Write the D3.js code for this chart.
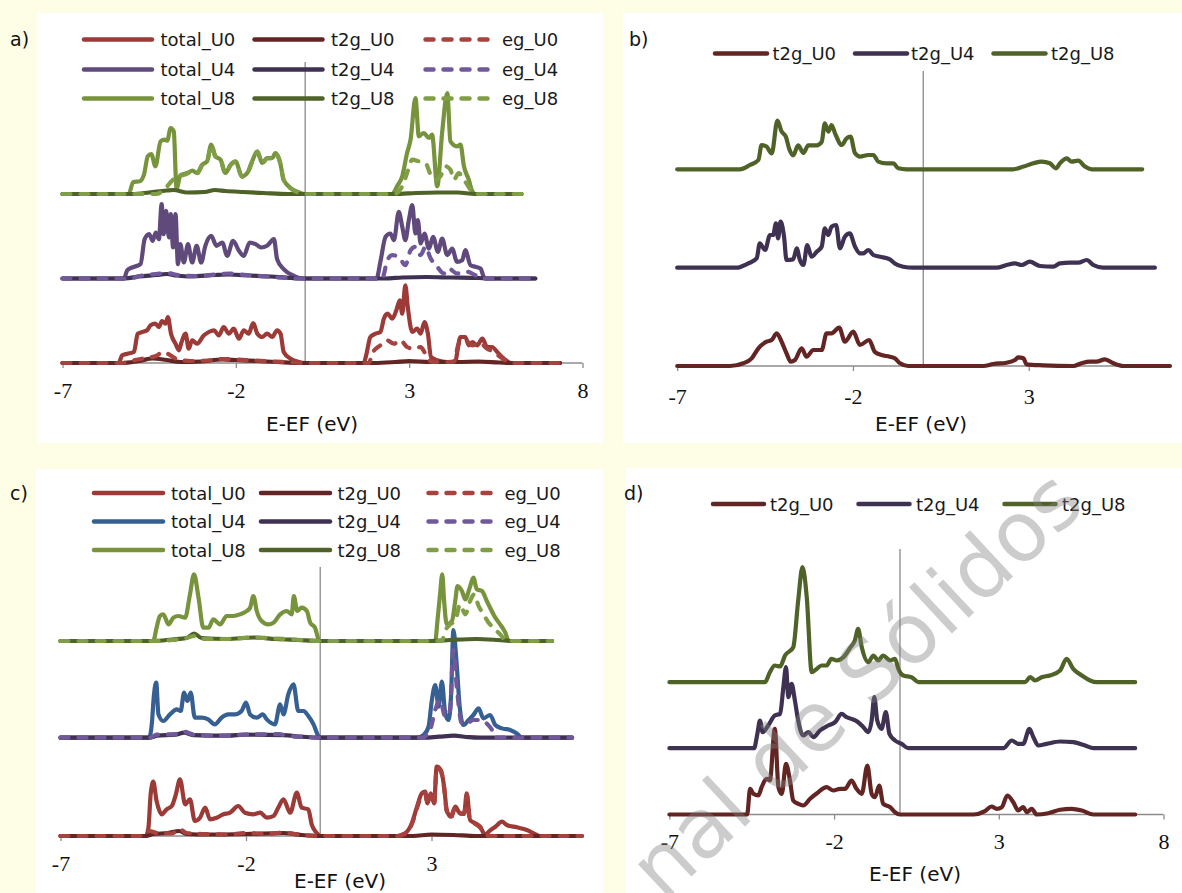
<!DOCTYPE html>
<html>
<head>
<meta charset="utf-8">
<script src="https://cdn.jsdelivr.net/npm/d3@7"></script>
<style>
  body { margin: 0; background: #fefee6; }
  svg { display: block; }
</style>
</head>
<body>
<svg id="chart" width="1182" height="893"></svg>
<script>
// ---- data: [E - EF (eV), DOS (arb. units)] ----
const ticksFull = [-7, -2, 3, 8];
const ticksShort = [-7, -2, 3];
const seriesNames = ['total_U0', 't2g_U0', 'eg_U0', 'total_U4', 't2g_U4', 'eg_U4', 'total_U8', 't2g_U8', 'eg_U8'];
const t2gNames = ['t2g_U0', 't2g_U4', 't2g_U8'];

// vertical offsets of the U0 / U4 / U8 curves in each panel
const offsetsA = [0, 8.45, 16.9];
const offsetsB = [0, 9.83, 19.67];
const offsetsC = [0, 9.83, 19.5];
const offsetsD = [0, 6.63, 13.23];

// panel a)
const aTotalU0 = [[-7,0],[-5.38,0],[-5.28,0.77],[-5.13,0.93],[-4.94,1.1],[-4.83,2.93],[-4.7,3.1],[-4.56,3.27],[-4.46,3.77],[-4.32,3.93],[-4.22,3.6],[-4.13,4.2],[-4.03,3.93],[-3.96,4.6],[-3.87,2.93],[-3.74,1.93],[-3.64,1.27],[-3.58,1.93],[-3.45,2.93],[-3.36,1.43],[-3.26,2.27],[-3.12,1.93],[-2.92,2.77],[-2.78,3.1],[-2.63,3.27],[-2.49,2.77],[-2.35,3.6],[-2.2,2.93],[-2.06,3.43],[-1.91,2.43],[-1.77,3.27],[-1.63,2.93],[-1.5,4.0],[-1.38,2.93],[-1.24,2.6],[-1.1,2.93],[-0.95,2.6],[-0.81,3.27],[-0.71,2.93],[-0.62,1.1],[-0.42,0.43],[-0.18,0.1],[0,0],[1.69,0],[1.77,0.93],[1.88,2.6],[2.03,2.93],[2.17,3.1],[2.27,4.43],[2.38,4.93],[2.51,4.43],[2.63,5.27],[2.73,6.27],[2.8,4.93],[2.89,7.77],[2.96,5.6],[3.09,3.1],[3.23,3.43],[3.33,2.93],[3.44,4.1],[3.54,2.93],[3.63,0.6],[3.81,0.27],[4.1,0.1],[4.34,0.17],[4.38,0.93],[4.48,2.6],[4.62,2.6],[4.72,1.77],[4.82,2.1],[4.96,1.77],[5.11,2.43],[5.25,1.6],[5.39,1.6],[5.54,1.1],[5.68,0.6],[5.83,0.17],[5.92,0],[7.35,0]];
const aT2gU0 = [[-7,0],[-5.3,0],[-4.8,0.2],[-4.4,0.45],[-4.0,0.3],[-3.6,0.1],[-3.0,0.15],[-2.4,0.35],[-2.0,0.3],[-1.4,0.2],[-0.8,0.1],[-0.2,0],[2.0,0],[2.6,0.1],[3.0,0.2],[3.6,0.1],[4.4,0.1],[5.0,0.15],[5.6,0.05],[6.0,0],[7.35,0]];
const aEgU0 = [[-7,0],[-5.3,0],[-4.9,0.3],[-4.6,0.5],[-4.3,0.7],[-4.1,1.1],[-3.95,0.9],[-3.7,0.4],[-3.3,0.2],[-2.8,0.25],[-2.4,0.4],[-2.0,0.35],[-1.5,0.25],[-0.9,0.15],[-0.3,0.05],[0,0],[1.84,0],[1.93,0.93],[2.17,1.77],[2.36,2.27],[2.56,1.93],[2.75,2.27],[2.94,1.6],[3.13,1.43],[3.33,1.6],[3.47,0.93],[3.66,0.1],[4.29,0.1],[4.43,1.93],[4.62,2.27],[4.82,1.77],[5.06,1.93],[5.25,1.43],[5.44,1.1],[5.63,0.6],[5.87,0.1],[6.0,0],[7.35,0]];
const aTotalU4 = [[-7,0],[-5.23,0],[-5.13,0.83],[-4.99,1.1],[-4.75,1.43],[-4.63,3.93],[-4.5,4.43],[-4.4,3.77],[-4.31,4.6],[-4.22,3.93],[-4.14,7.43],[-4.08,4.43],[-4.01,6.77],[-3.93,4.1],[-3.88,6.43],[-3.81,3.1],[-3.74,6.43],[-3.67,1.43],[-3.6,3.43],[-3.5,1.6],[-3.38,3.43],[-3.26,1.6],[-3.13,3.27],[-3.0,1.6],[-2.88,3.27],[-2.71,4.27],[-2.56,3.27],[-2.39,3.6],[-2.25,2.27],[-2.08,3.77],[-1.91,2.77],[-1.77,2.27],[-1.6,3.6],[-1.43,3.43],[-1.27,3.1],[-1.1,3.27],[-0.9,3.93],[-0.81,1.93],[-0.62,0.93],[-0.33,0.27],[-0.04,0],[2.06,0],[2.17,1.67],[2.32,4.17],[2.46,4.5],[2.56,3.83],[2.7,6.67],[2.8,5.17],[2.89,3.83],[2.99,5.83],[3.09,7.33],[3.18,4.5],[3.25,5.83],[3.33,3.5],[3.44,4.5],[3.57,3.0],[3.69,4.17],[3.83,2.67],[3.95,4.0],[4.1,2.33],[4.24,3.0],[4.38,1.67],[4.53,1.83],[4.62,2.83],[4.77,1.33],[4.91,1.17],[5.06,1.0],[5.15,0.17],[5.2,0],[6.64,0]];
const aT2gU4 = [[-7,0],[-5.2,0],[-4.8,0.2],[-4.3,0.35],[-4.0,0.45],[-3.7,0.3],[-3.3,0.2],[-2.6,0.35],[-2.2,0.4],[-1.6,0.3],[-1.0,0.2],[-0.4,0.05],[0,0],[2.3,0],[2.8,0.1],[3.5,0.15],[4.2,0.1],[5.0,0.05],[5.3,0],[6.64,0]];
const aEgU4 = [[-7,0],[-5.1,0],[-4.7,0.3],[-4.3,0.45],[-4.0,0.55],[-3.6,0.3],[-3.1,0.25],[-2.6,0.4],[-2.2,0.5],[-1.7,0.35],[-1.1,0.2],[-0.5,0.05],[0,0],[2.22,0],[2.37,1.83],[2.51,2.33],[2.7,2.17],[2.89,1.33],[3.04,2.83],[3.18,3.17],[3.33,2.33],[3.47,3.17],[3.62,2.0],[3.81,1.17],[4.0,0.5],[4.14,1.0],[4.38,0.5],[4.67,0.67],[4.91,0.33],[5.1,0],[6.64,0]];
const aTotalU8 = [[-7,0],[-5.09,0],[-4.96,1.2],[-4.77,1.27],[-4.65,1.93],[-4.54,3.77],[-4.44,4.0],[-4.32,2.77],[-4.17,5.27],[-4.06,5.43],[-3.98,5.33],[-3.88,6.6],[-3.79,6.27],[-3.71,0.53],[-3.6,1.87],[-3.4,2.1],[-3.25,2.33],[-3.12,2.1],[-2.97,2.93],[-2.83,3.27],[-2.71,4.93],[-2.59,3.77],[-2.44,3.43],[-2.3,2.1],[-2.15,2.93],[-2.01,3.27],[-1.82,1.77],[-1.67,2.1],[-1.53,3.27],[-1.38,4.27],[-1.24,3.1],[-1.1,3.6],[-0.95,3.6],[-0.86,4.1],[-0.73,3.27],[-0.62,1.43],[-0.42,0.6],[-0.18,0.17],[0,0],[2.51,0],[2.65,0.77],[2.8,1.77],[2.94,4.1],[3.04,5.43],[3.18,9.6],[3.28,5.77],[3.42,6.1],[3.57,5.6],[3.66,5.93],[3.81,0.77],[3.95,6.1],[4.1,10.1],[4.19,5.27],[4.38,4.77],[4.48,4.93],[4.58,2.77],[4.72,1.43],[4.82,0.27],[4.91,0],[6.24,0]];
const aT2gU8 = [[-7,0],[-5.0,0],[-4.5,0.15],[-4.0,0.35],[-3.8,0.4],[-3.4,0.15],[-2.9,0.2],[-2.6,0.4],[-2.3,0.3],[-1.8,0.2],[-1.2,0.1],[-0.5,0],[2.6,0],[3.2,0.1],[3.8,0.15],[4.4,0.15],[4.9,0],[6.24,0]];
const aEgU8 = [[-7,0],[-4.3,0],[-4.05,0.5],[-3.85,1.3],[-3.7,1.75],[-3.6,1.82],[-3.4,2.05],[-3.25,2.28],[-3.12,2.05],[-2.97,2.88],[-2.83,3.22],[-2.71,4.88],[-2.59,3.72],[-2.44,3.38],[-2.3,2.05],[-2.15,2.88],[-2.01,3.22],[-1.82,1.72],[-1.67,2.05],[-1.53,3.22],[-1.38,4.22],[-1.24,3.05],[-1.1,3.55],[-0.95,3.55],[-0.86,4.05],[-0.73,3.22],[-0.62,1.38],[-0.42,0.55],[-0.18,0.12],[0,0],[2.56,0],[2.8,0.77],[2.94,2.1],[3.09,3.43],[3.28,3.27],[3.47,3.1],[3.62,1.93],[3.76,1.43],[3.9,1.77],[4.05,2.77],[4.19,2.43],[4.29,1.43],[4.43,2.1],[4.58,1.43],[4.77,0.43],[4.87,0],[6.24,0]];

// panel b)
const bT2gU0 = [[-7,0],[-5.5,0],[-5.12,0.27],[-4.88,0.77],[-4.69,1.77],[-4.46,2.43],[-4.31,2.6],[-4.17,3.27],[-4.03,2.43],[-3.89,1.27],[-3.77,0.43],[-3.65,0.6],[-3.46,1.77],[-3.32,0.93],[-3.13,1.6],[-2.89,1.6],[-2.75,3.27],[-2.61,3.27],[-2.39,3.83],[-2.23,2.43],[-1.99,3.43],[-1.8,2.1],[-1.54,2.6],[-1.38,1.43],[-1.19,1.1],[-0.95,0.93],[-0.81,0.77],[-0.66,0.27],[-0.43,0],[1.71,0],[1.99,0.2],[2.37,0.33],[2.61,0.6],[2.7,0.87],[2.85,0.77],[2.94,0.17],[3.41,0.07],[4.27,0],[4.5,0.27],[4.74,0.43],[4.93,0.43],[5.17,0.67],[5.41,0.27],[5.69,0],[7.02,0]];
const bT2gU4 = [[-7,0],[-5.31,0],[-4.98,0.43],[-4.74,0.93],[-4.65,2.43],[-4.5,1.77],[-4.36,3.27],[-4.27,3.27],[-4.19,4.43],[-4.13,2.93],[-4.06,4.6],[-3.96,3.1],[-3.89,0.77],[-3.7,0.83],[-3.6,1.93],[-3.51,0.77],[-3.41,0.27],[-3.3,2.27],[-3.18,1.1],[-3.03,1.6],[-2.89,2.1],[-2.8,3.93],[-2.7,3.27],[-2.61,4.1],[-2.48,4.27],[-2.37,1.93],[-2.23,3.1],[-2.09,3.43],[-1.94,2.1],[-1.8,1.43],[-1.71,1.43],[-1.56,1.77],[-1.42,1.27],[-1.23,1.1],[-0.95,0.83],[-0.81,0.43],[-0.57,0.1],[-0.28,0],[2.09,0],[2.37,0.27],[2.61,0.43],[2.8,0.27],[3.03,0.6],[3.32,0.17],[3.7,0.1],[3.89,0.43],[4.17,0.5],[4.41,0.5],[4.65,0.77],[4.84,0.27],[5.12,0],[6.59,0]];
const bT2gU8 = [[-7,0],[-5.22,0],[-4.93,0.43],[-4.69,0.93],[-4.6,2.43],[-4.46,2.27],[-4.31,1.6],[-4.15,4.87],[-4.03,3.77],[-3.91,3.27],[-3.81,2.0],[-3.7,1.4],[-3.56,2.4],[-3.41,1.63],[-3.27,2.4],[-3.03,2.4],[-2.89,2.73],[-2.8,4.6],[-2.7,3.77],[-2.61,4.43],[-2.51,3.6],[-2.32,2.43],[-2.18,3.1],[-2.07,3.27],[-1.94,1.6],[-1.8,1.27],[-1.56,1.43],[-1.42,1.43],[-1.28,0.77],[-1.04,0.6],[-0.85,0.6],[-0.71,0.1],[-0.47,0],[2.56,0],[2.85,0.27],[3.13,0.6],[3.37,0.77],[3.6,0.6],[3.77,0.1],[3.89,0.6],[4.08,1.1],[4.22,0.77],[4.41,0.87],[4.6,0.27],[4.79,0],[6.23,0]];

// panel c)
const cTotalU0 = [[-7,0],[-4.7,0],[-4.63,0.83],[-4.57,4.17],[-4.5,5.43],[-4.41,3.5],[-4.27,2.17],[-4.14,2.67],[-4.0,3.0],[-3.89,4.17],[-3.78,5.67],[-3.64,3.17],[-3.51,3.67],[-3.38,1.5],[-3.24,1.83],[-3.1,2.83],[-2.97,1.67],[-2.79,1.83],[-2.61,2.17],[-2.43,2.33],[-2.21,3.0],[-2.03,2.33],[-1.8,2.17],[-1.62,2.33],[-1.44,1.83],[-1.26,2.0],[-1.13,2.83],[-0.99,3.67],[-0.81,2.33],[-0.63,4.33],[-0.5,2.83],[-0.32,2.67],[-0.23,1.17],[-0.1,0.33],[0,0],[2.07,0],[2.29,0.27],[2.47,1.27],[2.61,2.93],[2.74,4.27],[2.83,4.43],[2.89,3.27],[2.98,4.27],[3.07,3.27],[3.14,6.93],[3.25,6.6],[3.34,4.93],[3.41,2.6],[3.52,1.93],[3.64,2.93],[3.77,2.27],[3.88,2.27],[3.95,4.27],[4.04,1.6],[4.18,1.27],[4.31,0.93],[4.45,0.1],[4.54,0.43],[4.72,0.93],[4.9,1.43],[5.03,1.1],[5.3,0.87],[5.57,0.6],[5.84,0.1],[5.93,0],[7.05,0]];
const cT2gU0 = [[-7,0],[-4.7,0],[-4.5,0.2],[-4.1,0.3],[-3.8,0.5],[-3.6,0.2],[-3.0,0.15],[-2.0,0.2],[-1.0,0.3],[-0.5,0.1],[0,0],[2.5,0],[3.0,0.15],[3.6,0.1],[4.2,0],[7.05,0]];
const cEgU0 = [[-7,0],[-4.75,0],[-4.6,0.5],[-4.4,0.3],[-4.0,0.25],[-3.8,0.7],[-3.6,0.3],[-3.2,0.2],[-2.5,0.15],[-2.0,0.3],[-1.4,0.2],[-1.0,0.35],[-0.6,0.15],[0,0],[2.1,0],[2.3,0.25],[2.47,1.2],[2.61,2.8],[2.74,4.1],[2.83,4.3],[2.89,3.2],[2.98,4.1],[3.07,3.1],[3.14,6.8],[3.25,6.5],[3.34,4.8],[3.41,2.5],[3.52,1.8],[3.64,2.8],[3.77,2.2],[3.88,2.2],[3.95,4.1],[4.04,1.5],[4.18,1.2],[4.31,0.85],[4.45,0.1],[4.6,0],[7.05,0]];
const cTotalU4 = [[-7,0],[-4.61,0],[-4.54,1.33],[-4.48,4.33],[-4.42,5.5],[-4.36,2.33],[-4.23,1.67],[-4.05,2.33],[-3.87,2.83],[-3.76,2.67],[-3.67,4.5],[-3.58,3.67],[-3.49,4.5],[-3.38,2.0],[-3.2,2.0],[-3.02,1.83],[-2.84,1.33],[-2.66,2.0],[-2.48,2.33],[-2.3,2.33],[-2.12,2.67],[-2.0,3.5],[-1.89,2.33],[-1.71,2.0],[-1.55,2.33],[-1.44,1.83],[-1.22,1.33],[-1.08,3.33],[-0.99,2.33],[-0.86,4.33],[-0.72,5.33],[-0.59,2.67],[-0.45,2.67],[-0.32,2.17],[-0.18,1.33],[-0.05,0.17],[0,0],[2.61,0],[2.79,0.27],[2.92,1.1],[3.01,3.77],[3.1,5.27],[3.19,3.1],[3.28,5.6],[3.37,2.43],[3.46,1.77],[3.53,4.43],[3.59,10.77],[3.67,7.77],[3.76,3.1],[3.86,1.27],[4.0,1.77],[4.13,2.27],[4.27,2.93],[4.4,1.93],[4.58,2.27],[4.72,1.27],[4.9,0.93],[5.12,0.77],[5.3,0.43],[5.44,0],[6.79,0]];
const cT2gU4 = [[-7,0],[-4.6,0],[-4.4,0.2],[-3.9,0.3],[-3.67,0.5],[-3.4,0.25],[-2.5,0.2],[-2.0,0.3],[-1.0,0.25],[-0.5,0.1],[0,0],[2.8,0],[3.2,0.1],[3.6,0.2],[4.0,0.05],[4.3,0],[6.79,0]];
const cEgU4 = [[-7,0],[-4.6,0],[-4.4,0.3],[-3.9,0.35],[-3.67,0.6],[-3.4,0.3],[-2.8,0.2],[-2.0,0.3],[-1.1,0.35],[-0.9,0.2],[-0.4,0.05],[0,0],[2.74,0],[2.96,0.77],[3.1,2.77],[3.23,3.77],[3.37,2.1],[3.5,2.77],[3.59,8.77],[3.68,5.1],[3.82,1.43],[3.95,1.43],[4.13,1.77],[4.31,1.77],[4.49,1.43],[4.63,0.77],[4.72,0],[6.79,0]];
const cTotalU8 = [[-7,0],[-4.5,0],[-4.41,1.33],[-4.32,2.5],[-4.23,2.67],[-4.09,1.67],[-3.96,2.33],[-3.82,2.5],[-3.64,2.33],[-3.51,4.67],[-3.4,6.67],[-3.28,4.33],[-3.15,1.33],[-3.01,1.33],[-2.88,2.17],[-2.7,1.67],[-2.52,2.5],[-2.34,2.5],[-2.16,2.67],[-1.98,3.0],[-1.89,3.33],[-1.8,4.5],[-1.71,3.0],[-1.58,2.0],[-1.4,1.67],[-1.26,1.83],[-1.08,2.67],[-0.9,3.0],[-0.77,2.67],[-0.71,4.5],[-0.62,3.0],[-0.5,3.33],[-0.36,3.0],[-0.27,1.83],[-0.14,1.33],[-0.02,0],[3.1,0],[3.16,2.0],[3.23,4.67],[3.29,6.67],[3.34,4.0],[3.41,1.67],[3.55,2.0],[3.64,4.0],[3.7,5.5],[3.82,5.0],[3.91,4.17],[4.03,5.33],[4.13,6.33],[4.22,5.17],[4.36,5.0],[4.49,4.0],[4.58,3.33],[4.72,2.33],[4.85,1.67],[4.99,0.83],[5.08,0],[6.25,0]];
const cT2gU8 = [[-7,0],[-4.5,0],[-4.0,0.15],[-3.6,0.3],[-3.4,0.75],[-3.2,0.3],[-2.5,0.2],[-1.8,0.35],[-1.2,0.2],[-0.6,0.1],[0,0],[3.0,0],[3.5,0.1],[4.2,0.2],[4.8,0.1],[5.2,0],[6.25,0]];
const cEgU8 = [[-7,0],[-4.5,0],[-4.0,0.1],[-3.6,0.3],[-3.4,0.5],[-3.2,0.2],[-2.5,0.2],[-1.8,0.35],[-1.2,0.25],[-0.5,0.1],[0,0],[3.28,0],[3.37,1.0],[3.5,1.67],[3.64,2.0],[3.77,3.67],[3.91,2.67],[4.04,4.0],[4.15,4.67],[4.27,3.5],[4.4,2.67],[4.54,1.83],[4.67,1.33],[4.85,0.67],[5.03,0],[6.25,0]];

// panel d)
const dT2gU0 = [[-7,0],[-4.64,0],[-4.55,2.57],[-4.45,2.07],[-4.3,1.9],[-4.2,2.73],[-4.05,3.57],[-3.95,3.4],[-3.8,8.57],[-3.69,2.73],[-3.59,2.07],[-3.46,5.07],[-3.34,3.4],[-3.24,1.4],[-3.09,1.07],[-2.94,0.9],[-2.73,1.57],[-2.48,2.23],[-2.23,2.73],[-2.02,2.4],[-1.82,2.57],[-1.67,2.57],[-1.47,3.4],[-1.32,2.57],[-1.16,2.07],[-0.99,4.9],[-0.86,2.07],[-0.76,1.73],[-0.63,2.9],[-0.51,1.07],[-0.3,0.73],[-0.15,0.23],[0,0],[2.23,0],[2.58,0.33],[2.78,0.8],[2.94,0.57],[3.09,0.73],[3.26,1.9],[3.44,1.23],[3.59,0.4],[3.74,0.73],[3.85,0.23],[4.0,0.57],[4.15,0],[4.5,0.13],[4.86,0.47],[5.21,0.57],[5.52,0.4],[5.87,0],[7.14,0]];
const dT2gU4 = [[-7,0],[-4.43,0],[-4.33,1.43],[-4.25,2.77],[-4.17,1.6],[-4.0,2.27],[-3.8,3.27],[-3.64,3.43],[-3.54,6.1],[-3.46,8.1],[-3.39,5.1],[-3.29,6.43],[-3.19,4.77],[-3.09,2.77],[-2.94,1.27],[-2.78,1.6],[-2.63,1.1],[-2.43,1.77],[-2.18,2.27],[-1.97,2.6],[-1.77,3.43],[-1.62,3.1],[-1.47,2.93],[-1.27,2.6],[-1.11,2.1],[-0.96,1.6],[-0.86,2.77],[-0.78,5.1],[-0.69,2.77],[-0.56,1.93],[-0.43,3.6],[-0.32,1.43],[-0.15,0.77],[0.05,0.43],[0.25,0],[3.14,0],[3.39,0.77],[3.59,0.43],[3.74,0.43],[3.93,1.93],[4.05,1.1],[4.2,0.27],[4.45,0.43],[4.86,0.67],[5.26,0.6],[5.62,0.27],[5.87,0],[7.14,0]];
const dT2gU8 = [[-7,0],[-4.1,0],[-3.95,1.0],[-3.8,1.67],[-3.64,1.57],[-3.49,2.67],[-3.24,3.5],[-3.09,8.17],[-2.96,11.5],[-2.83,8.5],[-2.68,1.0],[-2.53,1.33],[-2.38,1.67],[-2.23,1.67],[-2.08,2.33],[-1.92,2.17],[-1.67,2.67],[-1.5,3.5],[-1.37,4.17],[-1.27,5.33],[-1.16,3.5],[-0.96,2.0],[-0.81,2.67],[-0.66,2.17],[-0.51,2.67],[-0.3,2.17],[-0.15,2.33],[-0.05,1.33],[0.1,0.67],[0.35,0.5],[0.56,0],[3.8,0],[3.95,0.5],[4.1,0.17],[4.3,0.5],[4.55,0.67],[4.86,1.17],[5.06,2.33],[5.26,1.33],[5.52,0.67],[5.77,0.17],[5.97,0],[7.14,0]];

// ---- styles ----
const colors = {
  total_U0: '#9b3a37', t2g_U0: '#632523', eg_U0: '#a8423f',
  total_U4: '#604a7b', t2g_U4: '#3f3151', eg_U4: '#70589a',
  total_U8: '#77933c', t2g_U8: '#4f6228', eg_U8: '#7f9e45'
};
const colorsC = Object.assign({}, colors, { total_U4: '#376092' });
const DASH = '8,10';

const svg = d3.select('#chart');
svg.append('rect').attr('width', 1182).attr('height', 893).attr('fill', '#fefee6');

function makeSeries(names, datas, offsets, palette) {
  return names.map((n, i) => ({
    name: n,
    data: datas[i],
    off: offsets[+n.slice(-1) / 4],
    color: palette[n],
    dash: n.startsWith('eg') ? DASH : null
  }));
}

function drawPanel(p) {
  const g = svg.append('g');
  g.append('rect')
    .attr('x', p.rect[0]).attr('y', p.rect[1])
    .attr('width', p.rect[2]).attr('height', p.rect[3])
    .attr('fill', '#fff');

  const x = d3.scaleLinear().domain([-7, 8]).range([p.x0, p.x1]);
  const y = d3.scaleLinear().domain([0, 30]).range([p.axisY, p.axisY - 300]);

  // Fermi level
  g.append('line')
    .attr('x1', x(0)).attr('x2', x(0))
    .attr('y1', p.vTop).attr('y2', p.axisY)
    .attr('stroke', '#8a8a8a').attr('stroke-width', 1.3);

  // x axis
  const axis = g.append('g')
    .attr('transform', `translate(0,${p.axisY})`)
    .call(d3.axisBottom(x).tickValues(p.ticks).tickSize(5).tickFormat(d => String(d)));
  axis.select('.domain').remove();
  axis.append('line')
    .attr('x1', x(-7)).attr('x2', x(p.axisEnd))
    .attr('stroke', '#8c8c8c').attr('stroke-width', 1.3);
  axis.selectAll('.tick line').attr('stroke', '#8c8c8c').attr('stroke-width', 1.3);
  axis.selectAll('.tick text')
    .attr('y', p.tickY - p.axisY).attr('dy', null)
    .attr('fill', '#111')
    .style('font-family', '"Liberation Serif", serif')
    .style('font-size', '22px');

  g.append('text')
    .attr('x', p.titleX).attr('y', p.titleY)
    .attr('text-anchor', 'middle')
    .style('font-family', '"DejaVu Sans", sans-serif')
    .style('font-size', '20px')
    .attr('fill', '#111')
    .text('E-EF (eV)');

  // curves
  const line = d3.line()
    .x(d => x(d[0]))
    .y(d => y(d[1]))
    .curve(d3.curveMonotoneX);

  g.append('g').selectAll('path')
    .data(p.series)
    .enter().append('path')
    .attr('d', s => line(s.data.map(d => [d[0], d[1] + s.off])))
    .attr('fill', 'none')
    .attr('stroke', s => s.color)
    .attr('stroke-width', 4.2)
    .attr('stroke-linejoin', 'round')
    .attr('stroke-linecap', 'round')
    .attr('stroke-dasharray', s => s.dash);

  // legend
  const leg = g.append('g');
  p.series.forEach((s, i) => {
    const col = i % p.legend.cols, row = Math.floor(i / p.legend.cols);
    const ly = p.legend.rows[row];
    leg.append('line')
      .attr('x1', p.legend.x[col]).attr('x2', p.legend.x[col] + p.legend.len)
      .attr('y1', ly).attr('y2', ly)
      .attr('stroke', s.color).attr('stroke-width', 4.5)
      .attr('stroke-linecap', 'round')
      .attr('stroke-dasharray', s.dash);
    leg.append('text')
      .attr('x', p.legend.tx[col]).attr('y', ly + 6.5)
      .style('font-family', '"DejaVu Sans", sans-serif')
      .style('font-size', '18px')
      .attr('fill', '#1a1a1a')
      .text(s.name);
  });

  svg.append('text')
    .attr('x', p.labelX).attr('y', p.labelY)
    .style('font-family', '"DejaVu Sans", sans-serif')
    .style('font-size', '19px')
    .attr('fill', '#111')
    .text(p.label);
}

drawPanel({
  label: 'a)', labelX: 10, labelY: 46,
  rect: [37, 13, 566, 430],
  x0: 62.5, x1: 582.5, axisY: 363, axisEnd: 8, ticks: ticksFull,
  vTop: 62, tickY: 398, titleX: 312, titleY: 431,
  series: makeSeries(seriesNames,
    [aTotalU0, aT2gU0, aEgU0, aTotalU4, aT2gU4, aEgU4, aTotalU8, aT2gU8, aEgU8], offsetsA, colors),
  legend: { cols: 3, rows: [39.5, 69.5, 98.5], x: [84, 254.5, 425.5], len: 68, tx: [160.5, 331, 502] }
});

drawPanel({
  label: 'b)', labelX: 629, labelY: 46,
  rect: [623, 13, 559, 430],
  x0: 677.2, x1: 677.2 + 15 * 35.15, axisY: 366, axisEnd: 7.05, ticks: ticksShort,
  vTop: 71, tickY: 404, titleX: 921, titleY: 431,
  series: makeSeries(t2gNames, [bT2gU0, bT2gU4, bT2gU8], offsetsB, colors),
  legend: { cols: 3, rows: [53.5], x: [715, 855, 993.5], len: 52, tx: [772.5, 911, 1051] }
});

drawPanel({
  label: 'c)', labelX: 10, labelY: 500,
  rect: [36, 469, 567, 424],
  x0: 60.5, x1: 60.5 + 15 * 37.1, axisY: 836, axisEnd: 7.05, ticks: ticksShort,
  vTop: 567, tickY: 871, titleX: 340, titleY: 888,
  series: makeSeries(seriesNames,
    [cTotalU0, cT2gU0, cEgU0, cTotalU4, cT2gU4, cEgU4, cTotalU8, cT2gU8, cEgU8], offsetsC, colorsC),
  legend: { cols: 3, rows: [493, 521.5, 550], x: [94, 261, 428.5], len: 69, tx: [171, 337.5, 504.5] }
});

drawPanel({
  label: 'd)', labelX: 624, labelY: 500,
  rect: [626, 468, 556, 425],
  x0: 669.4, x1: 669.4 + 15 * 32.94, axisY: 814.5, axisEnd: 8, ticks: ticksFull,
  vTop: 549, tickY: 849, titleX: 915, titleY: 881,
  series: makeSeries(t2gNames, [dT2gU0, dT2gU4, dT2gU8], offsetsD, colors),
  legend: { cols: 3, rows: [504], x: [713, 858.5, 1004.5], len: 51, tx: [770, 916, 1062] }
});

// watermark over panel d (runs off the bottom edge, as in the source image)
svg.append('text')
  .attr('transform', 'translate(856,684) rotate(-43)')
  .attr('text-anchor', 'middle')
  .attr('dominant-baseline', 'central')
  .style('font-family', '"DejaVu Sans", sans-serif')
  .style('font-size', '83px')
  .attr('fill', '#808080')
  .attr('fill-opacity', 0.4)
  .text('nal de Sólidos');
</script>
</body>
</html>
